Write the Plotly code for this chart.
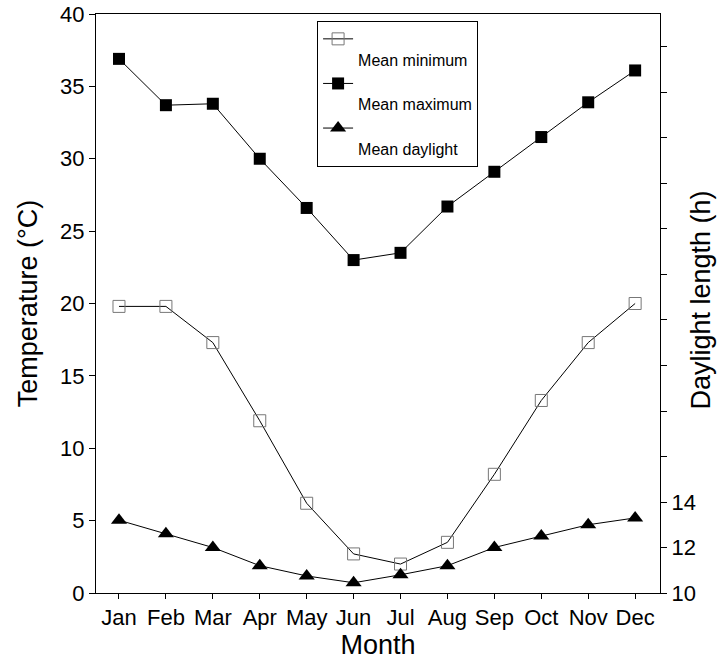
import plotly.graph_objects as go

months = ["Jan", "Feb", "Mar", "Apr", "May", "Jun", "Jul", "Aug", "Sep", "Oct", "Nov", "Dec"]
mean_min = [19.8, 19.8, 17.3, 11.9, 6.2, 2.7, 2.0, 3.5, 8.2, 13.3, 17.3, 20.0]
mean_max = [36.9, 33.7, 33.8, 30.0, 26.6, 23.0, 23.5, 26.7, 29.1, 31.5, 33.9, 36.1]
daylight = [13.2, 12.6, 12.0, 11.2, 10.75, 10.45, 10.8, 11.2, 12.0, 12.5, 13.0, 13.3]
temp_ticks = [0, 5, 10, 15, 20, 25, 30, 35, 40]
day_ticks = [10, 12, 14, 16, 18, 20, 22, 24, 26, 28, 30, 32, 34]
day_labels = ["10", "12", "14"] + [""] * 10

x = list(range(len(months)))
FONT = "Liberation Sans, Arial, sans-serif"

fig = go.Figure()
fig.add_trace(go.Scatter(
    x=x, y=mean_min, name=" <br>Mean minimum", mode="lines+markers",
    line=dict(color="black", width=1),
    marker=dict(symbol="square-open", size=12, color="#777777", line=dict(width=1)),
))
fig.add_trace(go.Scatter(
    x=x, y=mean_max, name=" <br>Mean maximum", mode="lines+markers",
    line=dict(color="black", width=1),
    marker=dict(symbol="square", size=12, color="black"),
))
fig.add_trace(go.Scatter(
    x=x, y=daylight, name=" <br>Mean daylight", mode="lines+markers", yaxis="y2",
    line=dict(color="black", width=1),
    marker=dict(symbol="triangle-up", size=14, color="black"),
))

fig.update_layout(
    width=717, height=660,
    margin=dict(l=96, r=57, t=14, b=67),
    paper_bgcolor="white", plot_bgcolor="white",
    font=dict(family=FONT, color="black", size=22),
    xaxis=dict(
        range=[-0.49, 11.53], tickmode="array", tickvals=x, ticktext=months,
        ticks="outside", ticklen=5, tickcolor="black",
        showline=True, linecolor="black", linewidth=1, mirror=True,
        showgrid=False, zeroline=False, automargin=False,
        title=dict(text="Month", font=dict(size=27), standoff=6),
    ),
    yaxis=dict(
        range=[0, 40], tickvals=temp_ticks,
        ticks="outside", ticklen=6, tickcolor="black",
        showline=True, linecolor="black", linewidth=1,
        showgrid=False, zeroline=False, automargin=False,
        title=dict(text="Temperature (°C)", font=dict(size=27), standoff=14),
    ),
    yaxis2=dict(
        range=[10, 35.45], overlaying="y", side="right",
        tickmode="array", tickvals=day_ticks, ticktext=day_labels,
        ticks="outside", ticklen=6, tickcolor="black",
        showline=True, linecolor="black", linewidth=1,
        showgrid=False, zeroline=False, automargin=False,
    ),
    annotations=[dict(
        text="Daylight length (h)", textangle=-90, showarrow=False,
        xref="paper", yref="paper", x=1.0727, y=0.505,
        xanchor="center", yanchor="middle", font=dict(size=27),
    )],
    legend=dict(
        x=0.392, y=0.988, xanchor="left", yanchor="top",
        bordercolor="black", borderwidth=1, bgcolor="white",
        font=dict(size=16), itemwidth=30, tracegroupgap=0, valign="top",
    ),
    showlegend=True,
)

fig.write_html("out.html")
